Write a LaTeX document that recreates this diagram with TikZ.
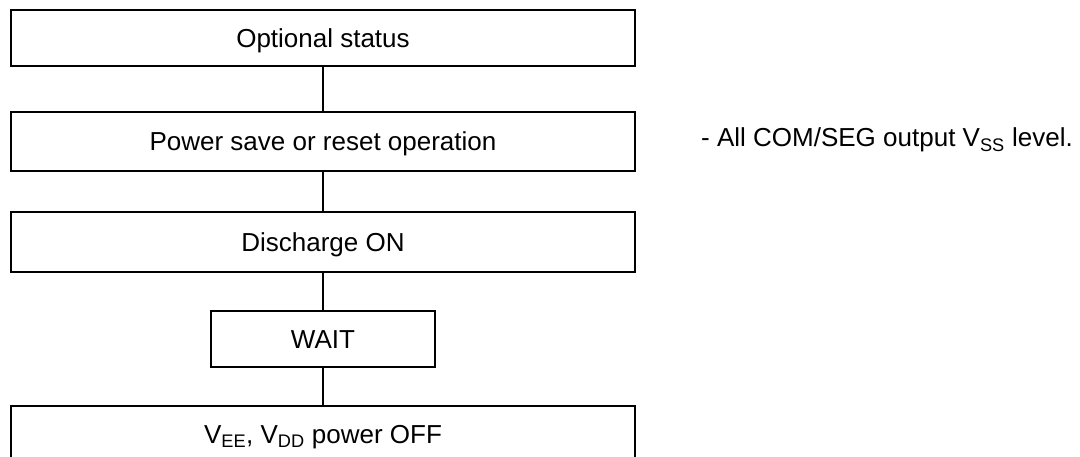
\documentclass[tikz,border=0pt]{standalone}
\usepackage{fontspec}
\setmainfont{Liberation Sans}
\begin{document}
\begin{tikzpicture}[x=1pt,y=-1pt,
  stepbox/.style={draw=black,line width=1.4pt,inner sep=0pt,minimum height=56pt,minimum width=624pt,
    text height=18.6pt,text depth=0pt,font=\fontsize{26}{30}\selectfont},
  link/.style={draw=black,line width=1.4pt}]
\useasboundingbox (0,0) rectangle (1080,457);
\clip (0,0) rectangle (1080,457);
\node[stepbox] (opt) at (323,38) {Optional status};
\node[stepbox,minimum height=59pt] (ps) at (323,141.5) {Power save or reset operation};
\node[stepbox,minimum height=60pt] (dis) at (323,242) {Discharge ON};
\node[stepbox,minimum width=224pt] (wait) at (323,339) {WAIT};
\node[stepbox] (off) at (323,434) {V\textsubscript{EE}, V\textsubscript{DD} power OFF};
\node[anchor=base west,inner sep=0pt,font=\fontsize{26}{30}\selectfont] (note) at (701,147) {- All COM/SEG output V\textsubscript{SS} level.};
\draw[link] (opt) -- (ps);
\draw[link] (ps) -- (dis);
\draw[link] (dis) -- (wait);
\draw[link] (wait) -- (off);
\end{tikzpicture}
\end{document}
